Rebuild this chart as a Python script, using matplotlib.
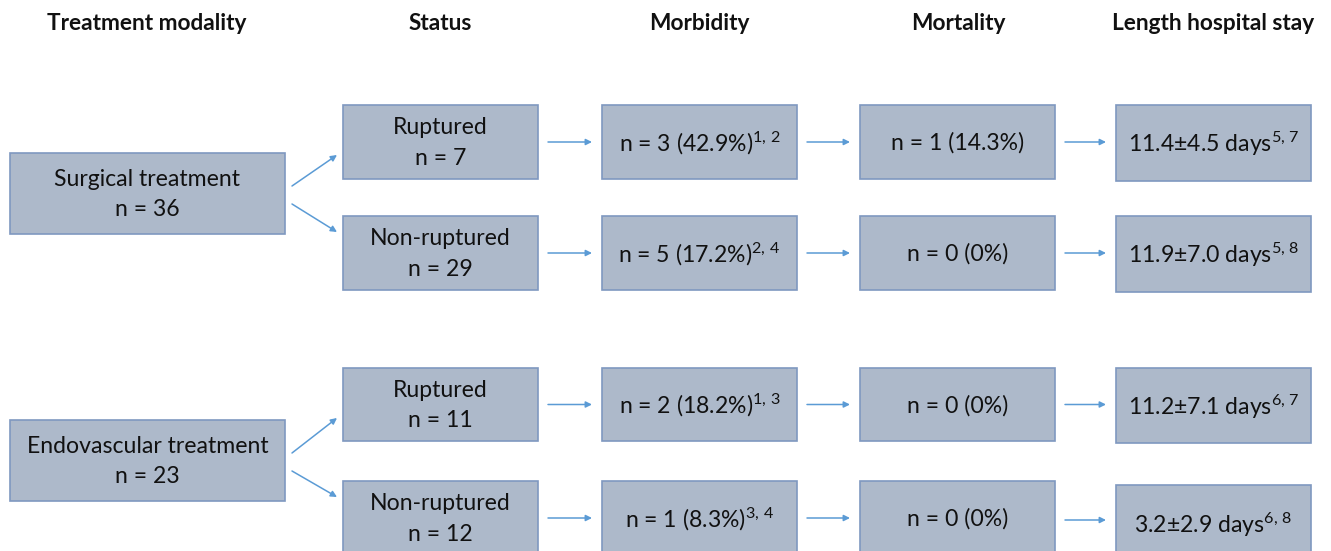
import matplotlib.pyplot as plt
from matplotlib.patches import Rectangle

plt.rcParams['font.family'] = ['Lato', 'DejaVu Sans']
plt.rcParams['mathtext.fontset'] = 'custom'
plt.rcParams['mathtext.rm'] = 'Lato'
plt.rcParams['mathtext.it'] = 'Lato'

# data
headers = ["Treatment modality", "Status", "Morbidity", "Mortality", "Length hospital stay"]
treatments = ["Surgical treatment", "Endovascular treatment"]
treatment_n = [36, 23]
status = ["Ruptured", "Non-ruptured", "Ruptured", "Non-ruptured"]
status_n = [7, 29, 11, 12]
morbidity_n = [3, 5, 2, 1]
morbidity_pct = ["42.9", "17.2", "18.2", "8.3"]
morbidity_refs = ["1, 2", "2, 4", "1, 3", "3, 4"]
mortality_n = [1, 0, 0, 0]
mortality_pct = ["14.3", "0", "0", "0"]
los_mean = ["11.4", "11.9", "11.2", "3.2"]
los_sd = ["4.5", "7.0", "7.1", "2.9"]
los_refs = ["5, 7", "5, 8", "6, 7", "6, 8"]

# layout (pixels)
W, H = 1331, 551
face = '#adb9ca'
edge = '#7f98c0'
arrow_col = '#5b9bd5'
fs = 16.6


def sup(refs):
    return r"$^{" + refs.replace(' ', r'\,') + "}$"


fig = plt.figure(figsize=(W / 100, H / 100), dpi=100)
ax = fig.add_axes([0, 0, 1, 1])
ax.set_xlim(0, W)
ax.set_ylim(H, 0)
ax.axis('off')

header_x = [147, 440, 699, 958, 1213]
for x, h in zip(header_x, headers):
    ax.text(x, 23, h, ha='center', va='center', fontsize=16.3, fontweight='bold',
            color='#111111')


def box(x0, y0, w, h, txt):
    ax.add_patch(Rectangle((x0, y0), w, h, facecolor=face, edgecolor=edge, lw=1.2))
    ax.text(x0 + w / 2, y0 + h / 2 + 1, txt, ha='center', va='center', fontsize=fs,
            linespacing=1.58, color='#111111')


def arrow(x0, y0, x1, y1):
    ax.annotate('', xy=(x1, y1), xytext=(x0, y0),
                arrowprops=dict(arrowstyle='-|>', color=arrow_col, lw=1.1,
                                mutation_scale=9, shrinkA=0, shrinkB=0))


# treatment boxes
treat_y = [153, 420]
for i, t in enumerate(treatments):
    box(10, treat_y[i], 275, 81, f"{t}\nn = {treatment_n[i]}")

row_y = [105, 216, 368, 481]
row_h = [74, 74, 73, 74]
col_x = [343, 602, 860, 1116]
bw = 195
for r in range(4):
    y0, h = row_y[r], row_h[r]
    cy = y0 + h / 2
    box(col_x[0], y0, bw, h, f"{status[r]}\nn = {status_n[r]}")
    box(col_x[1], y0, bw, h,
        f"n = {morbidity_n[r]} ({morbidity_pct[r]}%)" + sup(morbidity_refs[r]))
    box(col_x[2], y0, bw, h, f"n = {mortality_n[r]} ({mortality_pct[r]}%)")
    lh = h + 2 if r < 3 else h + 4
    ly = y0 if r < 3 else y0 + 4
    box(col_x[3], ly, bw, lh, f"{los_mean[r]}±{los_sd[r]} days" + sup(los_refs[r]))
    for c in range(3):
        ax_y = cy if not (r == 3 and c == 2) else cy + 2
        arrow(col_x[c] + bw + 10, ax_y, col_x[c + 1] - 10, ax_y)

# diagonal arrows
for i in range(2):
    ty = treat_y[i] + 40
    arrow(292, ty - 7, 337, row_y[2 * i] + 50)
    arrow(292, ty + 11, 337, row_y[2 * i + 1] + 16)

fig.savefig('out.png', dpi=100)
